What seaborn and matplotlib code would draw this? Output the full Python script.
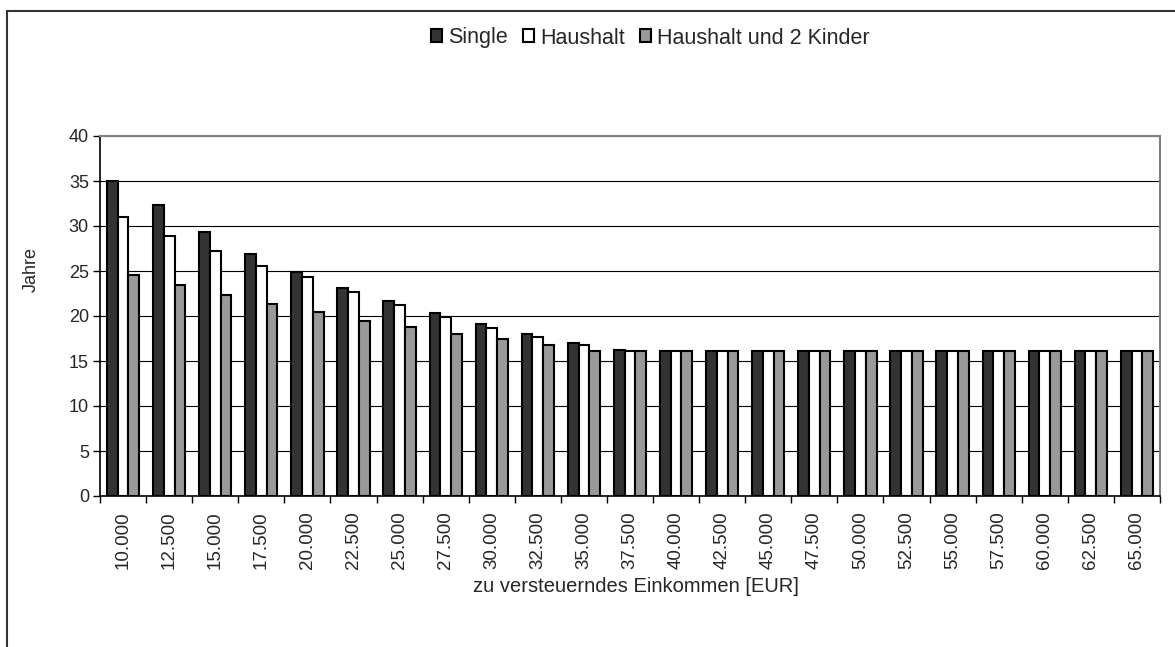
import numpy as np
import pandas as pd
import seaborn as sns
import matplotlib
matplotlib.use('Agg')
import matplotlib.pyplot as plt
from matplotlib.lines import Line2D
from matplotlib.patches import Patch

# Daten
einkommen = ['10.000', '12.500', '15.000', '17.500', '20.000', '22.500', '25.000', '27.500',
             '30.000', '32.500', '35.000', '37.500', '40.000', '42.500', '45.000', '47.500',
             '50.000', '52.500', '55.000', '57.500', '60.000', '62.500', '65.000']
single = [35.0, 32.3, 29.3, 26.9, 24.9, 23.1, 21.7, 20.3, 19.1, 18.0, 17.0, 16.2,
          16.1, 16.1, 16.1, 16.1, 16.1, 16.1, 16.1, 16.1, 16.1, 16.1, 16.1]
haushalt = [31.0, 28.9, 27.2, 25.6, 24.3, 22.7, 21.2, 19.9, 18.7, 17.7, 16.8, 16.1,
            16.1, 16.1, 16.1, 16.1, 16.1, 16.1, 16.1, 16.1, 16.1, 16.1, 16.1]
kinder = [24.6, 23.4, 22.3, 21.3, 20.4, 19.5, 18.8, 18.05, 17.4, 16.8, 16.1, 16.1,
          16.1, 16.1, 16.1, 16.1, 16.1, 16.1, 16.1, 16.1, 16.1, 16.1, 16.1]
gruppen = ['Single', 'Haushalt', 'Haushalt und 2 Kinder']
farben = ['#333333', '#ffffff', '#999999']

df = pd.DataFrame({
    'Einkommen': einkommen * 3,
    'Jahre': single + haushalt + kinder,
    'Gruppe': np.repeat(gruppen, len(einkommen)),
})

sns.set_style('white')
plt.rcParams['font.family'] = ['Liberation Sans', 'DejaVu Sans']

fig = plt.figure(figsize=(11.75, 6.47), dpi=100)
ax = fig.add_axes([100 / 1175, 1 - 496 / 647, 1060 / 1175, 360 / 647])

sns.barplot(data=df, x='Einkommen', y='Jahre', hue='Gruppe', hue_order=gruppen,
            palette=farben, width=0.7, edgecolor='black', linewidth=1.5,
            saturation=1, legend=False, ax=ax)

ax.set_ylim(0, 40)
ax.set_xlim(-0.5, len(einkommen) - 0.5)
ax.set_yticks(range(0, 41, 5))
ax.yaxis.grid(True, color='black', linewidth=0.8)
ax.set_axisbelow(True)

# Ticks zwischen den Kategorien
ax.set_xticks(np.arange(len(einkommen)))
ax.set_xticklabels(einkommen, rotation=90, fontsize=13.5)
ax.set_xticks(np.arange(-0.5, len(einkommen)), minor=True)
ax.tick_params(axis='x', which='major', length=0, pad=11)
ax.tick_params(axis='x', which='minor', length=5, width=1, color='black', direction='out', bottom=True)
ax.tick_params(axis='y', length=5, width=1, color='black', direction='out', left=True,
               labelsize=13, pad=3)

for s in ['left', 'bottom']:
    ax.spines[s].set_color('black')
    ax.spines[s].set_linewidth(1.2)
for s in ['top', 'right']:
    ax.spines[s].set_color('#808080')
    ax.spines[s].set_linewidth(1.5)

ax.set_ylabel('Jahre', fontsize=13)
ax.yaxis.set_label_coords(-0.057, 0.63)
ax.set_xlabel('zu versteuerndes Einkommen [EUR]', fontsize=14.5)
ax.xaxis.set_label_coords(0.506, -0.225)

handles = [Patch(facecolor=f, edgecolor='black', linewidth=1.5) for f in farben]
fig.legend(handles, gruppen, loc='center', bbox_to_anchor=(650 / 1175, 1 - 38 / 647),
           ncol=3, frameon=False, fontsize=15.5, handlelength=0.55, handleheight=0.55,
           handletextpad=0.25, columnspacing=0.7)

# Rahmen des Diagrammbereichs (oben und links)
fig.add_artist(Line2D([7 / 1175, 1.0], [1 - 11 / 647, 1 - 11 / 647], color='#333333', linewidth=1.5))
fig.add_artist(Line2D([7 / 1175, 7 / 1175], [0.0, 1 - 11 / 647], color='#333333', linewidth=1.5))

fig.savefig('out.png', dpi=100)
plt.close(fig)
